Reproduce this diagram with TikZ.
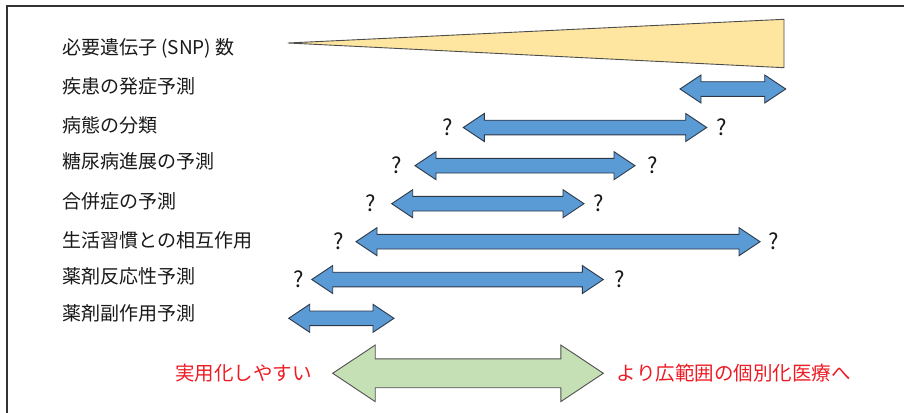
\documentclass[tikz,border=0pt]{standalone}
\usepackage{fontspec}
\setmainfont{Noto Sans CJK JP}
\definecolor{txtc}{RGB}{25,25,25}
\definecolor{redtxt}{RGB}{237,28,36}
\definecolor{bluef}{RGB}{91,155,213}
\definecolor{bluel}{RGB}{45,55,70}
\definecolor{greenf}{RGB}{197,224,180}
\definecolor{greenl}{RGB}{80,80,80}
\definecolor{yellowf}{RGB}{255,230,160}
\definecolor{framec}{RGB}{50,50,50}
\newcommand\dblarr[7]{%
\draw[#1] (#2,#4) -- ({#2+#5},{#4-#6}) -- ({#2+#5},{#4-#7}) -- ({#3-#5},{#4-#7}) -- ({#3-#5},{#4-#6}) -- (#3,#4) -- ({#3-#5},{#4+#6}) -- ({#3-#5},{#4+#7}) -- ({#2+#5},{#4+#7}) -- ({#2+#5},{#4+#6}) -- cycle;}
\tikzset{
  lbl/.style={anchor=west, inner sep=0pt, text=txtc, font=\fontsize{19}{22}\selectfont},
  qm/.style={inner sep=0pt, text=txtc, font=\fontsize{22}{24}\selectfont},
  redlbl/.style={inner sep=0pt, text=redtxt, font=\fontsize{19.5}{22}\selectfont},
  bluearr/.style={fill=bluef, draw=bluel, line width=0.9pt, line join=miter},
  greenarr/.style={fill=greenf, draw=greenl, line width=0.9pt, line join=miter},
  wedge/.style={fill=yellowf, draw=black!70, line width=0.9pt, line join=round}
}
\begin{document}
\begin{tikzpicture}[x=1pt,y=-1pt]
\useasboundingbox (0,0) rectangle (904,412);
% frame
\draw[framec, line width=2pt] (6.5,413) -- (6.5,6) -- (905,6);
% labels
\node[lbl] (l1) at (62,48.3) {必要遺伝子 (SNP) 数};
\node[lbl] (l2) at (62,86.7) {疾患の発症予測};
\node[lbl] (l3) at (62,125) {病態の分類};
\node[lbl] (l4) at (62,161.7) {糖尿病進展の予測};
\node[lbl] (l5) at (62,201.7) {合併症の予測};
\node[lbl] (l6) at (62,240) {生活習慣との相互作用};
\node[lbl] (l7) at (62,276.7) {薬剤反応性予測};
\node[lbl] (l8) at (62,313.3) {薬剤副作用予測};
% wedge
\draw[wedge] (288,43) -- (784,19.3) -- (784,67.7) -- cycle;
% blue arrows
\dblarr{bluearr}{680}{785.7}{89}{21}{14}{7.3}
\dblarr{bluearr}{463.3}{706.7}{127.5}{21}{14}{7.3}
\dblarr{bluearr}{415}{635}{165.7}{21}{14}{7.3}
\dblarr{bluearr}{391.7}{584}{203.7}{21}{14}{7.3}
\dblarr{bluearr}{356}{760}{241.7}{21}{14}{7.3}
\dblarr{bluearr}{311.7}{603.3}{279.5}{21}{14}{7.3}
\dblarr{bluearr}{288.7}{394}{318.3}{21}{14}{7.3}
% question marks
\node[qm] (q3l) at (448,127) {?};
\node[qm] (q3r) at (721.7,127) {?};
\node[qm] (q4l) at (396.7,165.2) {?};
\node[qm] (q4r) at (652.7,165.2) {?};
\node[qm] (q5l) at (370.7,203.2) {?};
\node[qm] (q5r) at (598.3,203.2) {?};
\node[qm] (q6l) at (338.3,241.2) {?};
\node[qm] (q6r) at (773.3,241.2) {?};
\node[qm] (q7l) at (298.3,279.5) {?};
\node[qm] (q7r) at (619.3,279.5) {?};
% green arrow
\dblarr{greenarr}{332.7}{603.3}{373.3}{42.5}{28.3}{14.4}
% red labels
\node[redlbl, anchor=east] (r1) at (312,373.3) {実用化しやすい};
\node[redlbl, anchor=west] (r2) at (616.7,373.3) {より広範囲の個別化医療へ};
\end{tikzpicture}
\end{document}
